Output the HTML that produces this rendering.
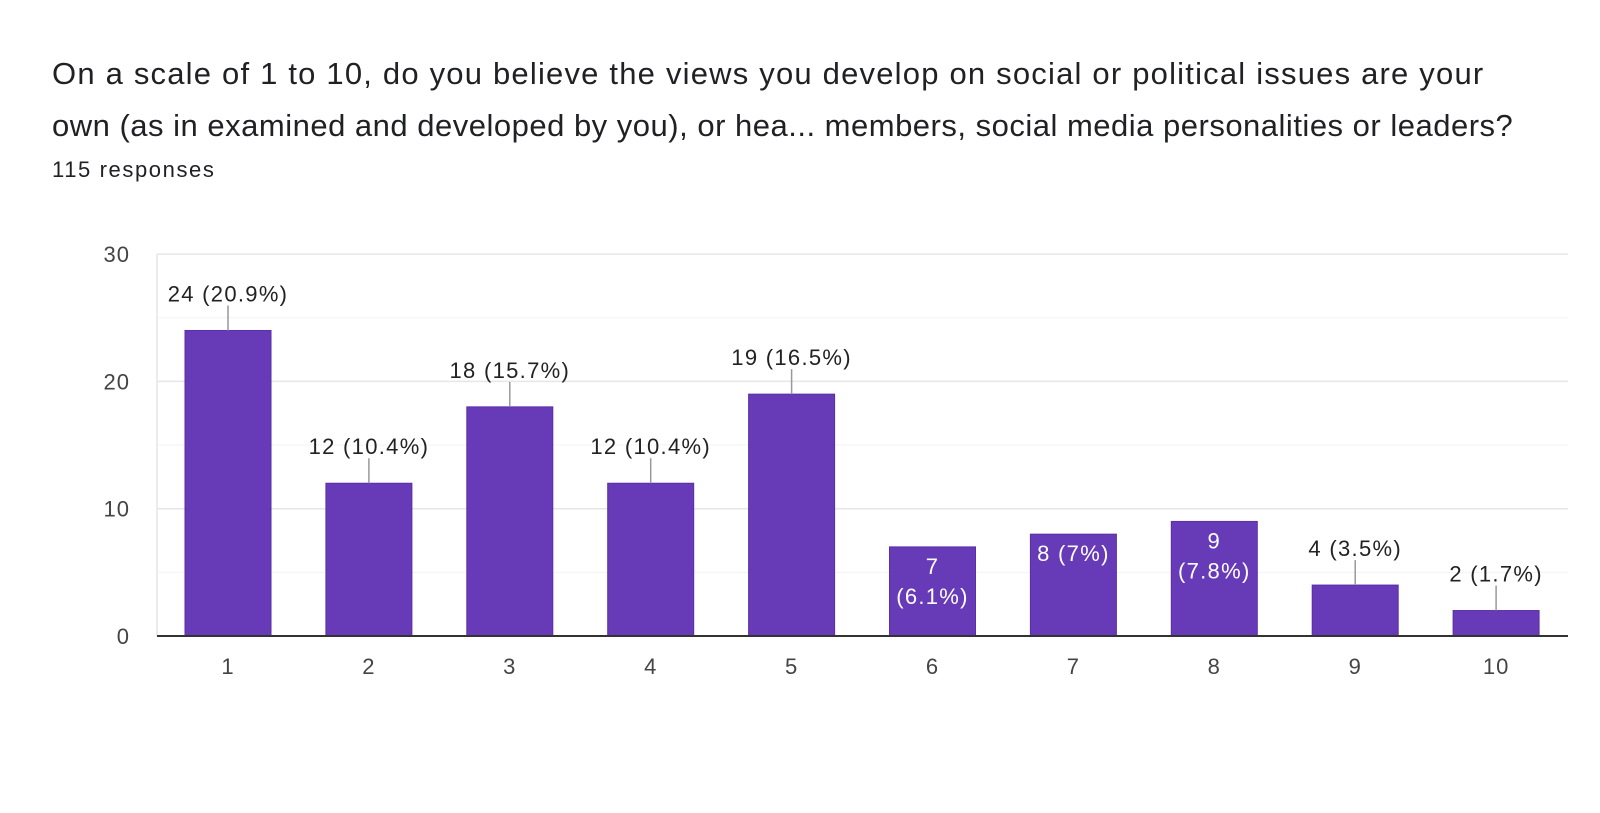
<!DOCTYPE html>
<html><head><meta charset="utf-8">
<style>
body{margin:0;background:#fff;width:1600px;height:813px;overflow:hidden;font-family:"Liberation Sans",Roboto,sans-serif;}
.t{position:absolute;left:52px;font-size:31px;letter-spacing:1.2px;color:#202124;line-height:52px;white-space:nowrap;}
</style></head><body>
<div class="t" style="top:48px;">On a scale of 1 to 10, do you believe the views you develop on social or political issues are your<br><span style="letter-spacing:0.5px">own (as in examined and developed by you), or hea... members, social media personalities or leaders?</span></div>
<div style="position:absolute;left:52px;top:157px;font-size:22px;letter-spacing:1.6px;color:#202124;">115 responses</div>
<svg id="c" width="1600" height="813" style="position:absolute;left:0;top:0"></svg>
<script>
const categories=["1","2","3","4","5","6","7","8","9","10"];
const values=[24,12,18,12,19,7,8,9,4,2];
const labels=["24 (20.9%)","12 (10.4%)","18 (15.7%)","12 (10.4%)","19 (16.5%)","7 (6.1%)","8 (7%)","9 (7.8%)","4 (3.5%)","2 (1.7%)"];
const yTicks=[0,10,20,30];
const minorTicks=[5,15,25];
const svg=document.getElementById('c');
const NS='http://www.w3.org/2000/svg';
const x0=157,x1=1568,y0=636,ppu=12.73,step=140.9,c0=228,bw=86;
const y=v=>y0-v*ppu, xc=i=>c0+i*step;
function mk(t,a,p){const e=document.createElementNS(NS,t);for(const k in a)e.setAttribute(k,a[k]);(p||svg).appendChild(e);return e;}
minorTicks.forEach(v=>{const l=mk('line',{x1:x0,x2:x1,y1:y(v),y2:y(v),stroke:'#f3f3f3','stroke-width':1});

});
yTicks.forEach(v=>{if(v>0){const l=mk('line',{x1:x0,x2:x1,y1:y(v),y2:y(v),stroke:'#e6e6e6','stroke-width':1.5});

}
const t=mk('text',{x:130,y:y(v)+8,'text-anchor':'end','font-size':22,fill:'#444','letter-spacing':1});t.textContent=v;

});
mk('line',{x1:x0,x2:x0,y1:y(30),y2:y0,stroke:'#e6e6e6','stroke-width':1.5});
values.forEach((v,i)=>{
const r=mk('rect',{x:xc(i)-bw/2,y:y(v),width:bw,height:v*ppu,fill:'#673ab7',stroke:'#5a2fa8','stroke-width':1});


const xl=mk('text',{x:xc(i),y:y0+38,'text-anchor':'middle','font-size':22,fill:'#444','letter-spacing':1});xl.textContent=categories[i];


const lab=labels[i];
if(v>=5&&v<=10){
 const w=lab.split(' ');
 const lines=(w[0].length+w[1].length<7)?[lab]:w;
 lines.forEach((s,j)=>{const t=mk('text',{x:xc(i),y:y(v)+27+j*30,'text-anchor':'middle','font-size':22,fill:'#fff','letter-spacing':1.3});t.textContent=s;
 
 });
}else{
 mk('line',{x1:xc(i),x2:xc(i),y1:y(v)-25,y2:y(v),stroke:'#999','stroke-width':1.5});
 const t=mk('text',{x:xc(i),y:y(v)-29,'text-anchor':'middle','font-size':22,fill:'#222','letter-spacing':1.3});t.textContent=lab;
 
 
}});
mk('line',{x1:x0,x2:x1,y1:y0,y2:y0,stroke:'#333','stroke-width':2});
</script>
</body></html>
